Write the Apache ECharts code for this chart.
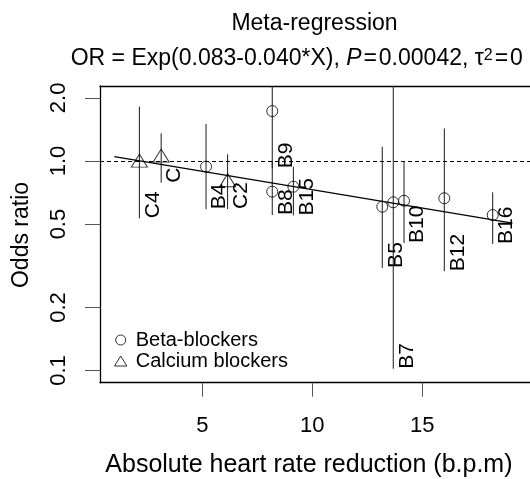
<!DOCTYPE html>
<html><head><meta charset="utf-8">
<script src="https://cdn.jsdelivr.net/npm/echarts@6/dist/echarts.min.js"></script>
<style>html,body{margin:0;padding:0;background:#fff}#c{width:530px;height:479px}</style>
</head><body><div id="c"></div>
<script>
// ---- data ----
const studies      = ['C4','C','B4','C2','B8','B9','B15','B5','B7','B10','B12','B16'];
const drugClass    = ['Calcium','Calcium','Beta','Calcium','Beta','Beta','Beta','Beta','Beta','Beta','Beta','Beta'];
const hrReduction  = [2.14, 3.13, 5.17, 6.15, 8.18, 8.18, 9.14, 13.18, 13.68, 14.17, 16.0, 18.2];
const oddsRatio    = [0.98, 1.035, 0.94, 0.79, 0.714, 1.73, 0.754, 0.605, 0.635, 0.646, 0.664, 0.552];
const ciLower      = [0.533, 0.788, 0.588, 0.59, 0.552, 0.923, 0.55, 0.309, 0.102, 0.406, 0.298, 0.402];
const ciUpper      = [1.82, 1.356, 1.503, 1.076, 1.0, 3.0, 0.94, 1.17, 3.0, 0.99, 1.43, 0.709];
const regressionX  = [1.0, 19.1];
const regressionOR = [1.05, 0.505];
const yTicks       = [0.1, 0.2, 0.5, 1.0, 2.0];
const xTicks       = [5, 10, 15];
const legendNames  = ['Beta-blockers', 'Calcium blockers'];
const titleText    = 'Meta-regression';
const xTitle       = 'Absolute heart rate reduction (b.p.m)';
const yTitle       = 'Odds ratio';

const FONT = '"Liberation Sans", Arial, Helvetica, sans-serif';

const betaPts = [], calPts = [], ciData = [];
hrReduction.forEach((x, i) => {
  (drugClass[i] === 'Beta' ? betaPts : calPts).push([x, oddsRatio[i]]);
  ciData.push([x, ciLower[i], ciUpper[i]]);
});

const chart = echarts.init(document.getElementById('c'), null, {renderer: 'canvas'});

function renderCI(params, api) {
  const x = api.value(0), lo = api.value(1), hi = api.value(2);
  const pLo = api.coord([x, lo]);
  const pHi = api.coord([x, hi]);
  const cs = params.coordSys;
  const yTop = Math.max(pHi[1], cs.y);
  const yBot = Math.min(pLo[1], cs.y + cs.height);
  return {
    type: 'group',
    children: [
      {type: 'line', shape: {x1: pLo[0], y1: yBot, x2: pLo[0], y2: yTop},
       style: {stroke: '#1a1a1a', lineWidth: 1}},
      {type: 'text', x: pLo[0] + 3, y: yBot, rotation: Math.PI / 2,
       style: {text: studies[params.dataIndex], fill: '#000', fontSize: 21, fontFamily: FONT,
               align: 'left', verticalAlign: 'top'}}
    ]
  };
}

const XMIN = 0.35, XMAX = 20.35;

const option = {
  animation: false,
  backgroundColor: '#fff',
  grid: {left: 100, top: 86, right: -10, bottom: 96.3, containLabel: false, outerBoundsMode: 'none'},
  xAxis: [{
    type: 'value', min: XMIN, max: XMAX,
    axisLine: {show: true, onZero: false, lineStyle: {color: '#000', width: 1.3}},
    axisTick: {show: true, length: 14, customValues: xTicks, lineStyle: {color: '#555', width: 1}},
    axisLabel: {show: true, customValues: xTicks, margin: 32, color: '#000', fontSize: 22, fontFamily: FONT},
    splitLine: {show: false}
  }, {
    type: 'value', position: 'top', min: XMIN, max: XMAX,
    axisLine: {show: true, onZero: false, lineStyle: {color: '#000', width: 1.3}},
    axisTick: {show: false}, axisLabel: {show: false}, splitLine: {show: false}
  }],
  yAxis: [{
    type: 'log', logBase: 10, min: 0.0875, max: 2.28,
    axisLine: {show: true, onZero: false, lineStyle: {color: '#000', width: 1.3}},
    axisTick: {show: true, length: 15, customValues: yTicks, lineStyle: {color: '#555', width: 1}},
    axisLabel: {show: true, customValues: yTicks, rotate: 90, margin: 30, color: '#000', fontSize: 22,
                fontFamily: FONT, formatter: v => Number(v).toFixed(1)},
    splitLine: {show: false}
  }],
  legend: {
    orient: 'vertical', left: 114, top: 329.5, itemGap: 0, padding: 0,
    itemWidth: 20, itemHeight: 10, symbolKeepAspect: true,
    textStyle: {fontSize: 20, fontFamily: FONT, color: '#000', lineHeight: 21},
    data: [
      {name: legendNames[0], icon: 'circle',
       itemStyle: {color: 'transparent', borderColor: '#000', borderWidth: 1}},
      {name: legendNames[1], icon: 'path://M6.6,0L13.3,10.7L0,10.7Z',
       itemStyle: {color: 'transparent', borderColor: '#000', borderWidth: 1}}
    ]
  },
  graphic: [
    {type: 'text', x: 314.5, y: 24, style: {text: titleText, fontSize: 23, fontFamily: FONT, fill: '#000',
      align: 'center', verticalAlign: 'middle'}},
    {type: 'text', x: 70.7, y: 58.7, style: {
      text: 'OR = Exp(0.083-0.040*X), {it|P}\u200A=\u200A0.00042, \u03C4{sup|2}\u200A=\u200A0',
      fontSize: 23, fontFamily: FONT, fill: '#000', align: 'left', verticalAlign: 'middle',
      rich: {
        it: {fontStyle: 'italic', fontSize: 23, fontFamily: FONT, fill: '#000'},
        sup: {fontSize: 16, fontFamily: FONT, fill: '#000', verticalAlign: 'top'}
      }}},
    {type: 'text', x: 308.9, y: 465.5, style: {text: xTitle, fontSize: 25, fontFamily: FONT, fill: '#000',
      align: 'center', verticalAlign: 'middle'}},
    {type: 'text', x: 21.3, y: 235, rotation: Math.PI / 2, style: {text: yTitle, fontSize: 23, fontFamily: FONT,
      fill: '#000', align: 'center', verticalAlign: 'middle'}}
  ],
  series: [
    {
      type: 'custom', name: 'CI', renderItem: renderCI, data: ciData,
      encode: {x: 0, y: [1, 2]}, silent: true, z: 2
    },
    {
      type: 'line', name: 'regression', data: regressionX.map((x, i) => [x, regressionOR[i]]),
      showSymbol: false, symbol: 'none', lineStyle: {color: '#000', width: 1.2}, z: 3,
      markLine: {
        silent: true, symbol: 'none', label: {show: false},
        lineStyle: {color: '#000', type: [4, 3], width: 1},
        data: [{yAxis: 1}]
      }
    },
    {
      type: 'scatter', name: legendNames[0], data: betaPts, symbol: 'circle', symbolSize: 11,
      itemStyle: {color: 'transparent', borderColor: '#000', borderWidth: 1}, z: 4
    },
    {
      type: 'scatter', name: legendNames[1], data: calPts, symbol: 'triangle', symbolSize: [16, 13],
      symbolOffset: [0, -2.2],
      itemStyle: {color: 'transparent', borderColor: '#000', borderWidth: 1}, z: 4
    }
  ]
};
chart.setOption(option);
</script></body></html>
